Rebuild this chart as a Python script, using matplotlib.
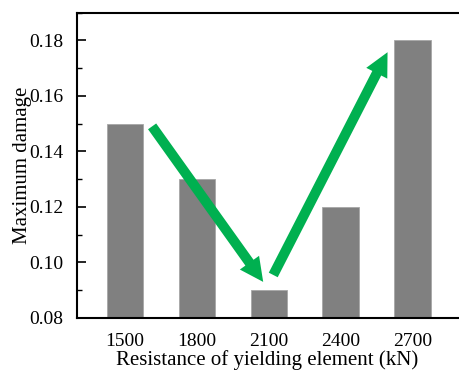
import matplotlib
matplotlib.use('Agg')
import matplotlib.pyplot as plt
from matplotlib.ticker import MultipleLocator

# data
resistance = ['1500', '1800', '2100', '2400', '2700']
max_damage = [0.15, 0.13, 0.09, 0.12, 0.18]
# arrow ends (bar index, damage)
arrow_down = [(0.375, 0.149), (1.92, 0.093)]
arrow_up = [(2.06, 0.0955), (3.65, 0.1757)]

plt.rcParams['font.family'] = 'Liberation Serif'

fig = plt.figure(figsize=(4.59, 3.71), dpi=100)
ax = fig.add_axes([77/459, 1-318/371, (458-77)/459, (318-12.5)/371])

x = list(range(len(resistance)))
ax.bar(x, max_damage, width=0.51, color='#808080', edgecolor='#a6a6a6', lw=0.6)

for start, end in [arrow_down, arrow_up]:
    ax.annotate('', xy=end, xytext=start,
                arrowprops=dict(width=7.2, headwidth=17, headlength=17,
                                color='#00b050', lw=0, shrink=0))

ax.set_xlim(-0.67, 4.63)
ax.set_ylim(0.08, 0.19)
ax.set_xticks(x)
ax.set_xticklabels(resistance)
ax.yaxis.set_major_locator(MultipleLocator(0.02))
ax.yaxis.set_minor_locator(MultipleLocator(0.01))
ax.yaxis.set_major_formatter(lambda v, p: '%.2f' % v)
ax.tick_params(axis='y', which='major', direction='in', length=6.5, width=1.2, labelsize=14, pad=10)
ax.tick_params(axis='y', which='minor', direction='in', length=3.6, width=1.0)
ax.tick_params(axis='x', length=0, labelsize=14, pad=11)

for s in ['left', 'bottom', 'top']:
    ax.spines[s].set_linewidth(1.5)
ax.spines['right'].set_visible(False)

ax.set_xlabel('Resistance of yielding element (kN)', fontsize=15, labelpad=0)
ax.set_ylabel('Maximum damage', fontsize=15, labelpad=-2)

plt.savefig('out.png', dpi=100)
